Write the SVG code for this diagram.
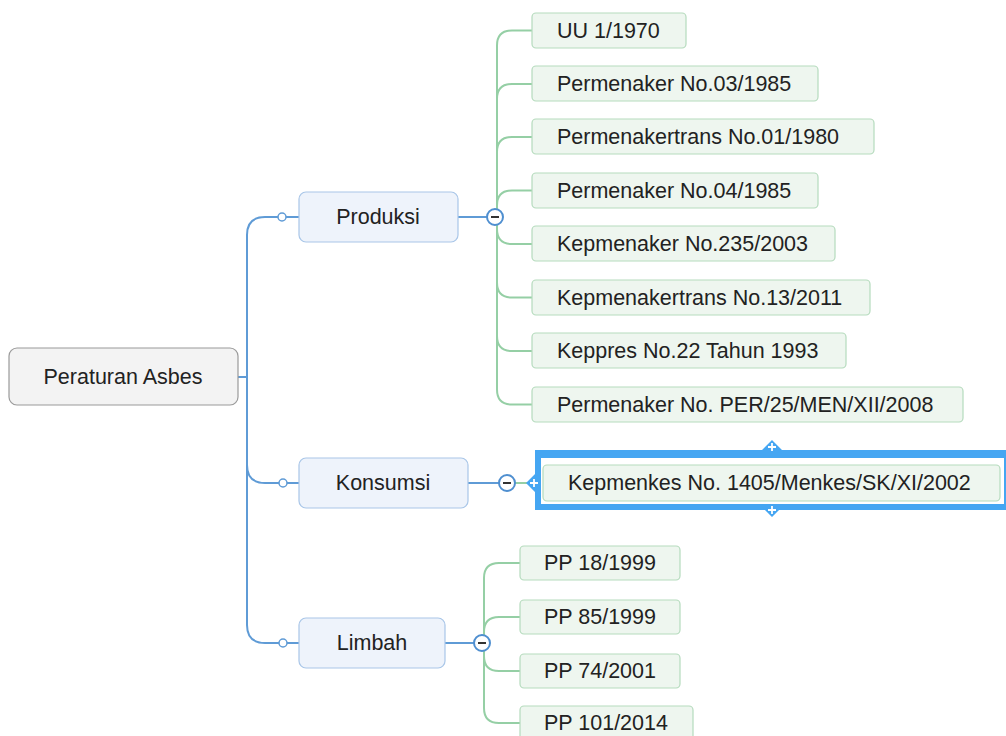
<svg xmlns="http://www.w3.org/2000/svg" width="1006" height="736" viewBox="0 0 1006 736">
<style>
text{font-family:"Liberation Sans",Arial,sans-serif;font-size:21.5px;fill:#222;dominant-baseline:central}
.c{text-anchor:middle}
.root{fill:#f3f3f3;stroke:#9a9a9a;stroke-width:1.2}
.l1{fill:#eef3fb;stroke:#a9c6e8;stroke-width:1.2}
.l2{fill:#eef6ef;stroke:#b5dbbd;stroke-width:1.2}
.bl{fill:none;stroke:#5f9bd6;stroke-width:2}
.gl{fill:none;stroke:#95cfa5;stroke-width:2}
.dot{fill:#fff;stroke:#5f9bd6;stroke-width:1.5}
.mc{fill:#fff;stroke:#4f8fd0;stroke-width:2}
.mm{stroke:#333;stroke-width:2}
.hd{fill:#45a6f2}
.pl{stroke:#fff;stroke-width:1.8}
</style>
<g id="connectors">
<path class="bl" d="M238 377 H247"/>
<path class="bl" d="M282 217 H265 Q247 217 247 235 V625 Q247 643 265 643 H282"/>
<path class="bl" d="M247 465 Q247 483 265 483 H282"/>
<path class="bl" d="M286 217 H299 M286 483 H299 M286 643 H299"/>
<path class="bl" d="M458 217 H487 M468 483 H499 M445 643 H474"/>
<path class="gl" d="M532 30.5 H512 Q497 30.5 497 45.5 V389.5 Q497 404.5 512 404.5 H532"/>
<path class="gl" d="M497 99 Q497 84 512 84 H532"/>
<path class="gl" d="M497 152 Q497 137 512 137 H532"/>
<path class="gl" d="M497 205.5 Q497 190.5 512 190.5 H532"/>
<path class="gl" d="M497 229 Q497 244 512 244 H532"/>
<path class="gl" d="M497 282.5 Q497 297.5 512 297.5 H532"/>
<path class="gl" d="M497 336 Q497 351 512 351 H532"/>
<path class="gl" d="M515 483 H538"/>
<path class="gl" d="M520 563 H499 Q484 563 484 578 V708 Q484 723 499 723 H520"/>
<path class="gl" d="M484 632 Q484 617 499 617 H520"/>
<path class="gl" d="M484 656 Q484 671 499 671 H520"/>
<circle class="dot" cx="282" cy="217" r="4"/>
<circle class="dot" cx="283" cy="483" r="4"/>
<circle class="dot" cx="283" cy="643" r="4"/>
</g>
<g id="root"><rect class="root" x="9" y="348" width="229" height="57" rx="8"/><text class="c" x="123" y="377">Peraturan Asbes</text></g>
<g id="produksi"><rect class="l1" x="299" y="192" width="159" height="50" rx="7"/><text class="c" x="378" y="217">Produksi</text>
<circle class="mc" cx="495" cy="217" r="8"/><path class="mm" d="M491 217 H499"/></g>
<g id="konsumsi"><rect class="l1" x="299" y="458" width="169" height="50" rx="7"/><text class="c" x="383" y="483">Konsumsi</text>
<circle class="mc" cx="507" cy="483" r="8"/><path class="mm" d="M503 483 H511"/></g>
<g id="limbah"><rect class="l1" x="299" y="618" width="146" height="50" rx="7"/><text class="c" x="372" y="643">Limbah</text>
<circle class="mc" cx="482" cy="643" r="8"/><path class="mm" d="M478 643 H486"/></g>
<g id="p1"><rect class="l2" x="532" y="13" width="154" height="35" rx="4"/><text x="557" y="30.5">UU 1/1970</text></g>
<g id="p2"><rect class="l2" x="532" y="66" width="286" height="35" rx="4"/><text x="557" y="83.5">Permenaker No.03/1985</text></g>
<g id="p3"><rect class="l2" x="532" y="119" width="342" height="35" rx="4"/><text x="557" y="136.5">Permenakertrans No.01/1980</text></g>
<g id="p4"><rect class="l2" x="532" y="173" width="286" height="35" rx="4"/><text x="557" y="190.5">Permenaker No.04/1985</text></g>
<g id="p5"><rect class="l2" x="532" y="226" width="303" height="35" rx="4"/><text x="557" y="243.5">Kepmenaker No.235/2003</text></g>
<g id="p6"><rect class="l2" x="532" y="280" width="338" height="35" rx="4"/><text x="557" y="297.5">Kepmenakertrans No.13/2011</text></g>
<g id="p7"><rect class="l2" x="532" y="333" width="314" height="35" rx="4"/><text x="557" y="350.5">Keppres No.22 Tahun 1993</text></g>
<g id="p8"><rect class="l2" x="532" y="387" width="431" height="35" rx="4"/><text x="557" y="404.5">Permenaker No. PER/25/MEN/XII/2008</text></g>
<g id="k1">
<path class="hd" fill-rule="evenodd" d="M535 450 H1010 V510 H535 Z M541 458 V504 H1004 V458 Z"/>
<path class="hd" d="M772 440 L783 451 L761 451 Z M772 517 L783 506 L761 506 Z M526 483 L537 472 L537 494 Z"/>
<path class="pl" d="M768 447 H776 M772 443 V451 M768 510 H776 M772 506 V514 M530 483 H538 M534 479 V487"/>
<rect class="l2" x="543" y="465" width="457" height="36" rx="4"/><text x="568" y="483">Kepmenkes No. 1405/Menkes/SK/XI/2002</text></g>
<g id="l1n"><rect class="l2" x="520" y="546" width="160" height="34" rx="4"/><text x="544" y="563">PP 18/1999</text></g>
<g id="l2n"><rect class="l2" x="520" y="600" width="160" height="34" rx="4"/><text x="544" y="617">PP 85/1999</text></g>
<g id="l3n"><rect class="l2" x="520" y="654" width="160" height="34" rx="4"/><text x="544" y="671">PP 74/2001</text></g>
<g id="l4n"><rect class="l2" x="520" y="706" width="173" height="36" rx="4"/><text x="544" y="723">PP 101/2014</text></g>
</svg>
